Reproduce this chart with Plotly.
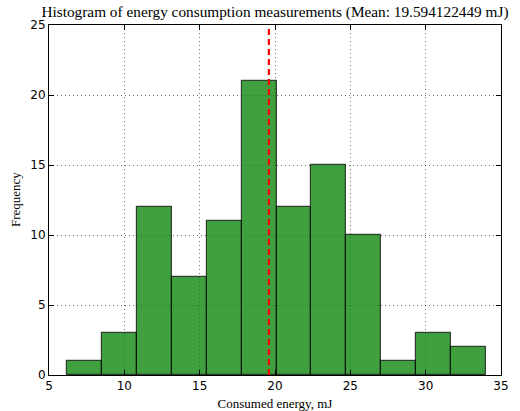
import numpy as np
import plotly.graph_objects as go

# Data
counts = [1, 3, 12, 7, 11, 21, 12, 15, 10, 1, 3, 2]
data_min = 6.21
data_max = 34.0
mean_value = 19.594122449
x_ticks = [5, 10, 15, 20, 25, 30, 35]
y_ticks = [0, 5, 10, 15, 20, 25]

n_bins = len(counts)
edges = np.linspace(data_min, data_max, n_bins + 1)
centers = (edges[:-1] + edges[1:]) / 2
width = edges[1] - edges[0]

fig = go.Figure()
fig.add_trace(go.Bar(
    x=centers, y=counts, width=[width] * n_bins,
    marker=dict(color="rgba(0,128,0,0.75)",
                line=dict(color="rgba(0,0,0,0.7)", width=1.2)),
    hoverinfo="skip",
))
fig.add_trace(go.Scatter(
    x=[mean_value, mean_value], y=[0, 25], mode="lines",
    line=dict(color="red", width=2.2, dash="6px,4px"),
    hoverinfo="skip",
))

axis_common = dict(
    showline=True, linecolor="black", linewidth=1, mirror="ticks",
    ticks="inside", ticklen=5, tickcolor="black",
    showgrid=True, gridcolor="rgba(0,0,0,0.55)", griddash="1px,3px", gridwidth=1,
    zeroline=False, automargin=False,
    tickfont=dict(family="DejaVu Sans", size=12, color="black"),
)

fig.update_layout(
    width=520, height=411,
    margin=dict(l=49, r=19, t=25, b=36),
    paper_bgcolor="white", plot_bgcolor="white",
    showlegend=False, bargap=0,
    title=dict(
        text="Histogram of energy consumption measurements (Mean: 19.594122449 mJ)",
        font=dict(family="Liberation Serif", size=15.3, color="black"),
        x=0.5, xanchor="center", xref="paper",
        y=1 - 12 / 411, yanchor="middle", yref="container",
    ),
    xaxis=dict(range=[5, 35], tickvals=x_ticks,
               title=dict(text="Consumed energy, mJ",
                          font=dict(family="Liberation Serif", size=13, color="black")),
               **axis_common),
    yaxis=dict(range=[0, 25], tickvals=y_ticks, **axis_common),
    annotations=[dict(
        text="Frequency", textangle=-90, showarrow=False,
        xref="paper", yref="paper", x=-(49 - 15) / 452, y=0.5,
        xanchor="center", yanchor="middle",
        font=dict(family="Liberation Serif", size=13, color="black"),
    )],
)

fig.write_html("out.html", config={"displayModeBar": False},
               post_script="document.body.style.margin='0';")
